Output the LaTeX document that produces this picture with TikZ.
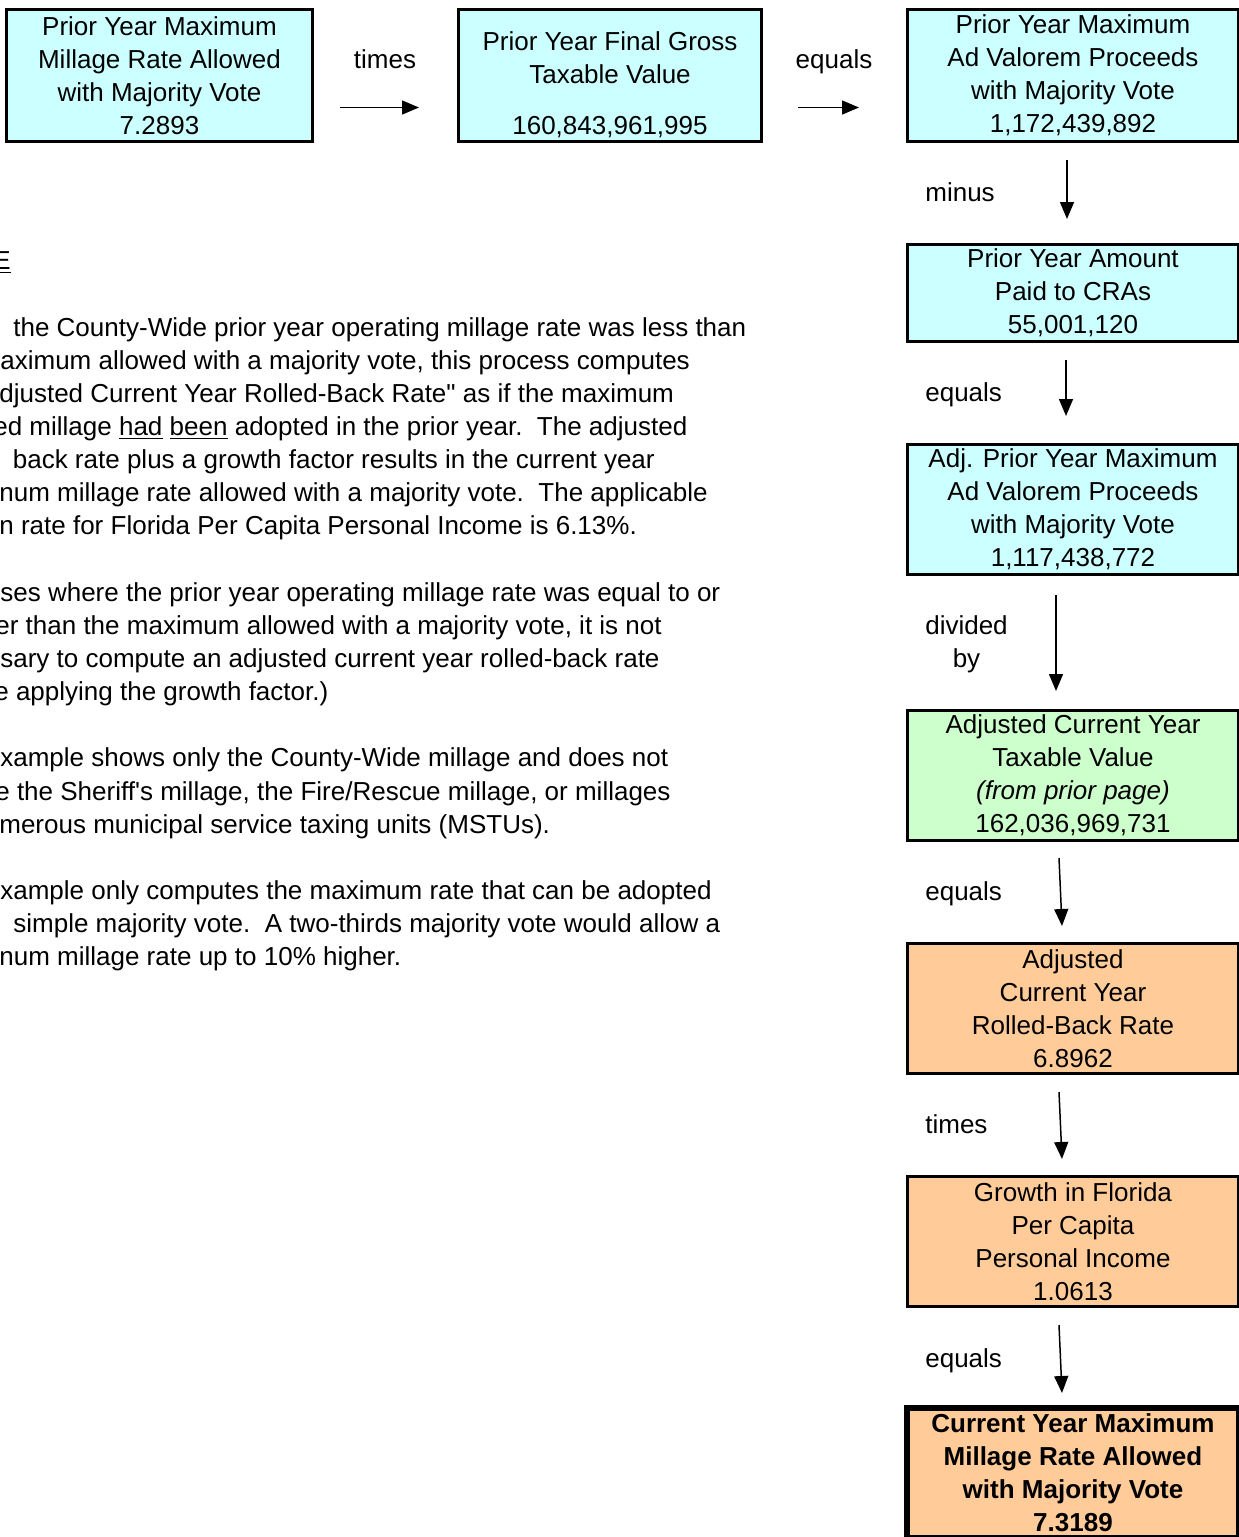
\documentclass[tikz,border=0pt]{standalone}
\usepackage{fontspec}
\setmainfont{Liberation Sans}
\usepackage{tikz}
\usetikzlibrary{positioning, arrows.meta}
\definecolor{paleCyan}{HTML}{CCFFFF}
\definecolor{paleGreen}{HTML}{CCFFCC}
\definecolor{paleOrange}{HTML}{FFCC99}

\begin{document}
\begin{tikzpicture}[node distance=2cm, every node/.style={font=\fontsize{14.8}{18.86}\selectfont, inner sep=0pt},
    box/.style={draw, line width=1.7pt, align=center, minimum width=6.62cm, minimum height=2.6cm},
    flow/.style={-{Triangle[length=0.34cm,width=0.28cm]}, line width=0.85pt}]
        \useasboundingbox (0,0) rectangle (24.78,-30.74);
        \node[box, fill=paleCyan, minimum width=6.12cm, minimum height=2.64cm] (maxrate) at (3.19,-1.51) {Prior Year Maximum\\Millage Rate Allowed\\with Majority Vote\\7.2893};
        \node[box, fill=paleCyan, minimum width=6.06cm, minimum height=2.64cm, right=2.86cm of maxrate] (gross) {\rule{0pt}{0.76cm}Prior Year Final Gross\\Taxable Value\\[0.36cm]160,843,961,995};
        \node[box, fill=paleCyan, minimum height=2.64cm, right=2.86cm of gross] (proceeds) {Prior Year Maximum\\Ad Valorem Proceeds\\with Majority Vote\\1,172,439,892};
        \node[box, fill=paleCyan, minimum height=1.94cm, below=of proceeds] (cra) {Prior Year Amount\\Paid to CRAs\\55,001,120};
        \node[box, fill=paleCyan, below=of cra] (adjproc) {Adj. Prior Year Maximum\\Ad Valorem Proceeds\\with Majority Vote\\1,117,438,772};
        \node[box, fill=paleGreen, below=2.66cm of adjproc] (adjtax) {Adjusted Current Year\\Taxable Value\\\textit{(from prior page)}\\162,036,969,731};
        \node[box, fill=paleOrange, below=of adjtax] (rollback) {Adjusted\\Current Year\\Rolled-Back Rate\\6.8962};
        \node[box, fill=paleOrange, below=of rollback] (growth) {Growth in Florida\\Per Capita\\Personal Income\\1.0613};
        \node[box, fill=paleOrange, line width=3.4pt, font=\fontsize{14.8}{18.86}\selectfont\bfseries, below=1.94cm of growth] (result) {Current Year Maximum\\Millage Rate Allowed\\with Majority Vote\\7.3189};

        \node (times1) at (7.70,-1.18) {times};
        \node (equals1) at (16.68,-1.24) {equals};
        \node[anchor=west] (minus) at (18.5,-3.84) {minus};
        \node[anchor=west] (equals2) at (18.5,-7.90) {equals};
        \node[align=center] (divby) at (19.33,-12.89) {divided\\by};
        \node[anchor=west] (equals3) at (18.5,-17.88) {equals};
        \node[anchor=west] (times2) at (18.5,-22.48) {times};
        \node[anchor=west] (equals4) at (18.5,-27.22) {equals};

        \coordinate (h1a) at (6.80,-2.15);
        \coordinate (h1b) at (8.38,-2.15);
        \coordinate (h2a) at (15.96,-2.15);
        \coordinate (h2b) at (17.18,-2.15);
        \coordinate (v1a) at (21.34,-3.20);
        \coordinate (v1b) at (21.34,-4.38);
        \coordinate (v2a) at (21.32,-7.20);
        \coordinate (v2b) at (21.32,-8.32);
        \coordinate (v3a) at (21.12,-11.90);
        \coordinate (v3b) at (21.12,-13.82);
        \coordinate (v4a) at (21.18,-17.16);
        \coordinate (v4b) at (21.24,-18.52);
        \coordinate (v5a) at (21.18,-21.84);
        \coordinate (v5b) at (21.24,-23.18);
        \coordinate (v6a) at (21.18,-26.50);
        \coordinate (v6b) at (21.24,-27.86);
        \draw[flow] (h1a) -- (h1b);
        \draw[flow] (h2a) -- (h2b);
        \draw[flow] (v1a) -- (v1b);
        \draw[flow] (v2a) -- (v2b);
        \draw[flow] (v3a) -- (v3b);
        \draw[flow] (v4a) -- (v4b);
        \draw[flow] (v5a) -- (v5b);
        \draw[flow] (v6a) -- (v6b);

        \node[align=left, anchor=north west] (note) at (0,-5.03) {\hspace*{-0.14cm}\underline{E}\\[18.86pt]
            \hspace*{0.26cm}the County-Wide prior year operating millage rate was less than\\
            aximum allowed with a majority vote, this process computes\\
            \hspace*{-0.02cm}djusted Current Year Rolled-Back Rate\textquotedbl{} as if the maximum\\
            \hspace*{-0.14cm}ed millage \underline{had} \underline{been} adopted in the prior year.\ \ The adjusted\\
            \hspace*{0.25cm}back rate plus a growth factor results in the current year\\
            \hspace*{-0.02cm}num millage rate allowed with a majority vote.\ \ The applicable\\
            \hspace*{-0.02cm}n rate for Florida Per Capita Personal Income is 6.13\%.\\[18.86pt]
            ses where the prior year operating millage rate was equal to or\\
            \hspace*{-0.1cm}er than the maximum allowed with a majority vote, it is not\\
            sary to compute an adjusted current year rolled-back rate\\
            \hspace*{-0.12cm}e applying the growth factor.)\\[18.86pt]
            xample shows only the County-Wide millage and does not\\
            \hspace*{-0.1cm}e the Sheriff\textquotesingle s millage, the Fire/Rescue millage, or millages\\
            \hspace*{-0.02cm}merous municipal service taxing units (MSTUs).\\[18.86pt]
            xample only computes the maximum rate that can be adopted\\
            \hspace*{0.26cm}simple majority vote.\ \ A two-thirds majority vote would allow a\\
            \hspace*{-0.02cm}num millage rate up to 10\% higher.};
\end{tikzpicture}
\end{document}
